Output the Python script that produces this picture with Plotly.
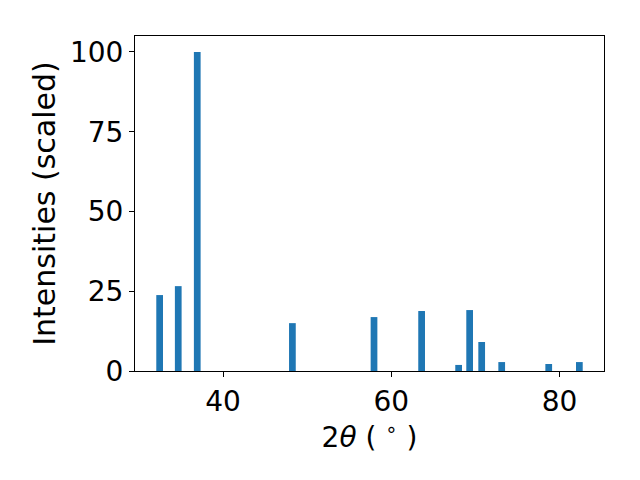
import plotly.graph_objects as go

two_theta = [32.46, 34.67, 36.93, 48.24, 57.94, 63.6, 68.0, 69.31, 70.74, 73.12, 78.71, 82.35]
intensity = [23.8, 26.6, 100.0, 15.0, 16.9, 18.8, 1.9, 19.1, 9.1, 2.8, 2.2, 2.8]
x_ticks = [40, 60, 80]
y_ticks = [0, 25, 50, 75, 100]

fig = go.Figure(go.Bar(x=two_theta, y=intensity, width=0.8,
                       marker=dict(color="#1f77b4", line=dict(width=0))))

font = dict(family="DejaVu Sans", size=28, color="black")
ytitle_font = dict(family="DejaVu Sans", size=30, color="black")
axis_common = dict(showline=True, linecolor="black", linewidth=1.1, mirror=True,
                   ticks="outside", ticklen=5, tickwidth=1.1, tickcolor="black",
                   showgrid=False, zeroline=False, tickfont=font, automargin=False)

fig.update_layout(
    width=632, height=472,
    margin=dict(l=127, r=36, t=28, b=109, pad=0),
    paper_bgcolor="white", plot_bgcolor="white",
    showlegend=False,
    xaxis=dict(range=[29.53, 85.28], tickvals=x_ticks, ticktext=[str(v) for v in x_ticks],
               title=dict(text="2<i>θ</i> ( <sup>∘</sup> )", font=font, standoff=3), **axis_common),
    yaxis=dict(range=[0, 105], tickvals=y_ticks, ticktext=[str(v) for v in y_ticks],
               title=dict(text="Intensities (scaled)", font=ytitle_font, standoff=5), **axis_common),
)

fig.write_html("out.html")
